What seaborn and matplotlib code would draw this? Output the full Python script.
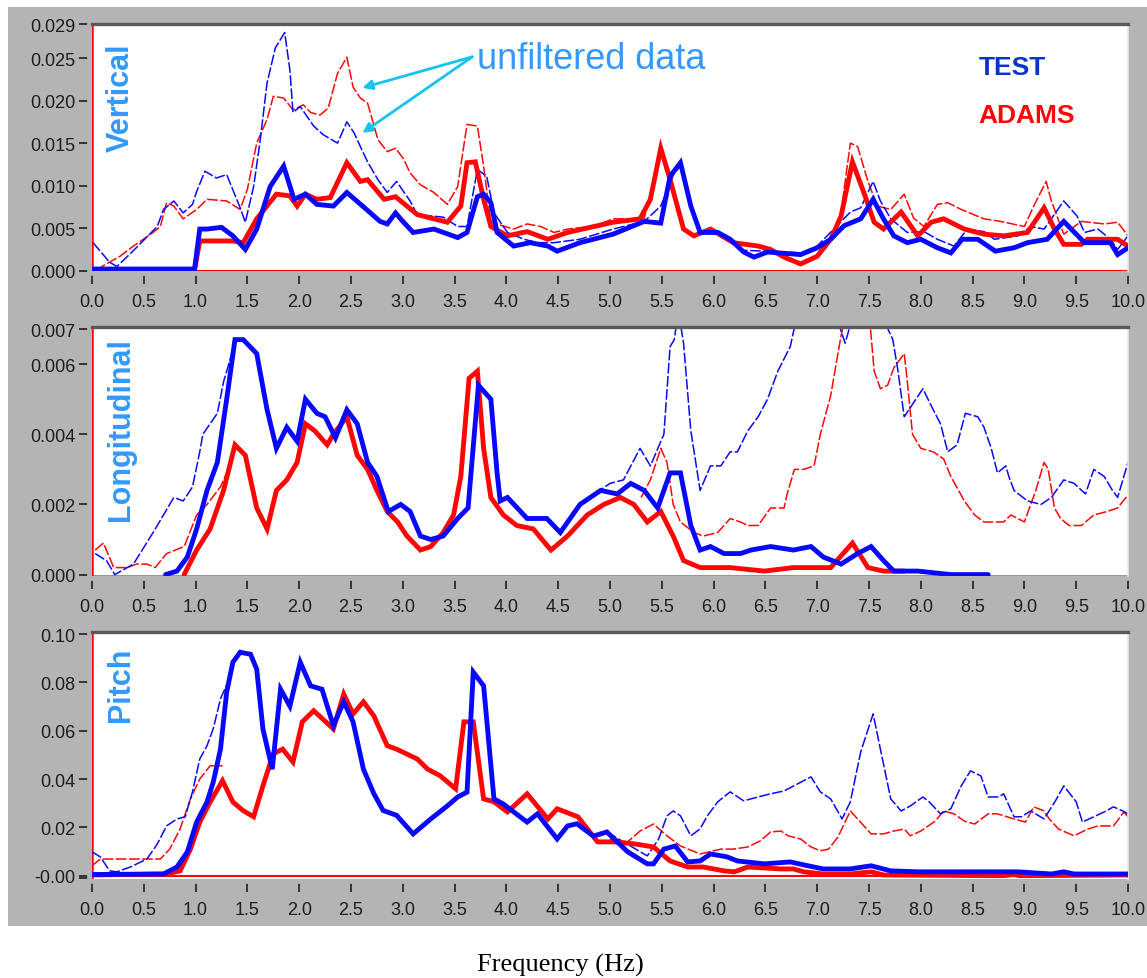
import numpy as np
import pandas as pd
import matplotlib
matplotlib.use("Agg")
import matplotlib.pyplot as plt
from matplotlib.patches import Rectangle
import seaborn as sns

# ---------------- data (frequency Hz, amplitude) ----------------
FREQ_TICKS = [i * 0.5 for i in range(21)]

vert_test = [(0.0, 0.0002), (0.99, 0.0002), (1.04, 0.0049), (1.11, 0.0049), (1.25, 0.0051), (1.36, 0.0041),
             (1.48, 0.0025), (1.59, 0.0049), (1.72, 0.0099), (1.85, 0.0123), (1.95, 0.0084), (2.06, 0.0090),
             (2.17, 0.0078), (2.33, 0.0076), (2.46, 0.0092), (2.65, 0.0072), (2.78, 0.0058), (2.85, 0.0055),
             (2.93, 0.0068), (3.0, 0.0058), (3.10, 0.0045), (3.3, 0.0049), (3.53, 0.0039), (3.62, 0.0045),
             (3.72, 0.0087), (3.78, 0.0090), (3.85, 0.0080), (3.91, 0.0045), (4.07, 0.0029), (4.23, 0.0033),
             (4.4, 0.0029), (4.49, 0.0023), (4.71, 0.0033), (5.03, 0.0043), (5.33, 0.0058), (5.49, 0.0056),
             (5.58, 0.0111), (5.68, 0.0127), (5.78, 0.0076), (5.87, 0.0045), (6.04, 0.0045), (6.16, 0.0037),
             (6.29, 0.0022), (6.39, 0.0016), (6.52, 0.0022), (6.84, 0.0019), (7.0, 0.0027), (7.13, 0.0037),
             (7.26, 0.0053), (7.42, 0.0061), (7.54, 0.0084), (7.64, 0.0061), (7.74, 0.0041), (7.87, 0.0033),
             (8.0, 0.0037), (8.16, 0.0027), (8.29, 0.0021), (8.40, 0.0037), (8.55, 0.0037), (8.72, 0.0023),
             (8.9, 0.0027), (9.03, 0.0033), (9.22, 0.0037), (9.38, 0.0058), (9.58, 0.0033), (9.83, 0.0033),
             (9.9, 0.0019), (10.0, 0.0027)]

vert_adams = [(0.0, 0.0001), (0.99, 0.0001), (1.04, 0.0035), (1.36, 0.0035), (1.46, 0.0033), (1.59, 0.0061),
              (1.78, 0.0090), (1.91, 0.0088), (1.98, 0.0076), (2.06, 0.0090), (2.17, 0.0084), (2.30, 0.0086),
              (2.46, 0.0127), (2.59, 0.0105), (2.66, 0.0107), (2.82, 0.0084), (2.93, 0.0087), (3.14, 0.0066),
              (3.43, 0.0057), (3.56, 0.0076), (3.62, 0.0127), (3.70, 0.0128), (3.78, 0.0084), (3.85, 0.0052),
              (4.01, 0.0041), (4.2, 0.0046), (4.4, 0.0037), (4.59, 0.0045), (5.03, 0.0057), (5.29, 0.0061),
              (5.39, 0.0084), (5.49, 0.0144), (5.58, 0.0107), (5.71, 0.0049), (5.81, 0.0041), (5.97, 0.0049),
              (6.19, 0.0033), (6.43, 0.0029), (6.55, 0.0025), (6.68, 0.0016), (6.84, 0.0008), (7.0, 0.0017),
              (7.13, 0.0037), (7.23, 0.0064), (7.34, 0.0128), (7.45, 0.0092), (7.55, 0.0057), (7.64, 0.0049),
              (7.81, 0.0069), (7.97, 0.0041), (8.1, 0.0057), (8.22, 0.0061), (8.42, 0.0049), (8.61, 0.0043),
              (8.8, 0.0041), (9.03, 0.0045), (9.19, 0.0074), (9.29, 0.0049), (9.38, 0.0031), (9.55, 0.0031),
              (9.61, 0.0037), (9.9, 0.0037), (10.0, 0.0029)]

vert_test_raw = [(0.01, 0.0033), (0.17, 0.0010), (0.24, 0.0005), (0.37, 0.0020), (0.63, 0.0052), (0.69, 0.0072),
                 (0.79, 0.0082), (0.88, 0.0068), (0.97, 0.0078), (1.01, 0.0093), (1.09, 0.0117), (1.20, 0.0109),
                 (1.30, 0.0113), (1.43, 0.0074), (1.48, 0.0057), (1.56, 0.0099), (1.62, 0.0150), (1.69, 0.0221),
                 (1.77, 0.0262), (1.86, 0.0280), (1.91, 0.0236), (1.94, 0.0186), (2.01, 0.0193), (2.14, 0.0170),
                 (2.23, 0.0160), (2.37, 0.0150), (2.46, 0.0175), (2.53, 0.0162), (2.59, 0.0146), (2.66, 0.0128),
                 (2.76, 0.0107), (2.85, 0.0092), (2.94, 0.0105), (3.07, 0.0082), (3.14, 0.0066), (3.39, 0.0063),
                 (3.53, 0.0052), (3.62, 0.0052), (3.72, 0.0119), (3.81, 0.0111), (3.88, 0.0068), (4.01, 0.0045),
                 (4.17, 0.0037), (4.30, 0.0033), (4.46, 0.0033), (4.71, 0.0037), (5.03, 0.0049), (5.33, 0.0058),
                 (5.49, 0.0076), (5.62, 0.0115), (5.68, 0.0123), (5.78, 0.0076), (5.87, 0.0045), (6.04, 0.0045),
                 (6.16, 0.0037), (6.29, 0.0024), (6.52, 0.0023), (6.84, 0.0021), (7.0, 0.0029), (7.16, 0.0049),
                 (7.32, 0.0069), (7.42, 0.0074), (7.54, 0.0105), (7.61, 0.0082), (7.71, 0.0061), (7.87, 0.0045),
                 (8.03, 0.0046), (8.16, 0.0037), (8.32, 0.0029), (8.45, 0.0049), (8.61, 0.0046), (8.71, 0.0037),
                 (8.94, 0.0041), (9.06, 0.0052), (9.19, 0.0049), (9.38, 0.0082), (9.51, 0.0064), (9.58, 0.0045),
                 (9.71, 0.0049), (9.83, 0.0037), (9.9, 0.0025), (10.0, 0.0041)]

vert_adams_raw = [(0.04, 0.0000), (0.11, 0.0006), (0.27, 0.0017), (0.40, 0.0029), (0.59, 0.0045), (0.66, 0.0052),
                  (0.72, 0.0080), (0.79, 0.0076), (0.88, 0.0061), (1.01, 0.0072), (1.11, 0.0084), (1.30, 0.0082),
                  (1.43, 0.0072), (1.50, 0.0096), (1.59, 0.0150), (1.69, 0.0178), (1.75, 0.0205), (1.85, 0.0203),
                  (1.94, 0.0189), (2.04, 0.0195), (2.11, 0.0186), (2.20, 0.0183), (2.28, 0.0191), (2.37, 0.0232),
                  (2.46, 0.0251), (2.52, 0.0216), (2.59, 0.0203), (2.66, 0.0197), (2.76, 0.0154), (2.85, 0.0140),
                  (2.93, 0.0144), (3.01, 0.0131), (3.07, 0.0115), (3.17, 0.0101), (3.30, 0.0092), (3.43, 0.0078),
                  (3.53, 0.0099), (3.62, 0.0172), (3.72, 0.0170), (3.78, 0.0123), (3.85, 0.0057), (4.07, 0.0049),
                  (4.20, 0.0055), (4.33, 0.0052), (4.46, 0.0045), (4.59, 0.0049), (4.84, 0.0052), (5.03, 0.0061),
                  (5.33, 0.0061), (5.49, 0.0144), (5.58, 0.0115), (5.71, 0.0049), (5.81, 0.0041), (5.97, 0.0049),
                  (6.19, 0.0033), (6.43, 0.0029), (6.68, 0.0017), (6.84, 0.0009), (7.0, 0.0018), (7.13, 0.0037),
                  (7.23, 0.0069), (7.32, 0.0150), (7.39, 0.0146), (7.49, 0.0105), (7.58, 0.0076), (7.71, 0.0072),
                  (7.84, 0.0090), (7.93, 0.0062), (8.03, 0.0052), (8.16, 0.0078), (8.26, 0.0080), (8.39, 0.0072),
                  (8.61, 0.0061), (8.77, 0.0058), (9.0, 0.0052), (9.09, 0.0076), (9.21, 0.0105), (9.26, 0.0082),
                  (9.38, 0.0043), (9.55, 0.0058), (9.77, 0.0055), (9.9, 0.0057), (10.0, 0.0041)]

long_test = [(0.71, 0.0000), (0.82, 0.0001), (0.92, 0.0005), (1.01, 0.0013), (1.11, 0.0024), (1.21, 0.0032),
             (1.30, 0.0050), (1.38, 0.0067), (1.46, 0.0067), (1.59, 0.0063), (1.69, 0.0047), (1.78, 0.0036),
             (1.88, 0.0042), (1.98, 0.0038), (2.06, 0.0050), (2.17, 0.0046), (2.25, 0.0045), (2.35, 0.0039),
             (2.46, 0.0047), (2.56, 0.0043), (2.66, 0.0032), (2.75, 0.0028), (2.86, 0.0018), (2.98, 0.0020),
             (3.07, 0.0018), (3.17, 0.0011), (3.27, 0.0010), (3.39, 0.0011), (3.53, 0.0016), (3.63, 0.0019),
             (3.73, 0.0054), (3.85, 0.0050), (3.91, 0.0029), (3.94, 0.0021), (4.01, 0.0022), (4.20, 0.0016),
             (4.39, 0.0016), (4.52, 0.0012), (4.71, 0.0020), (4.91, 0.0024), (5.07, 0.0023), (5.20, 0.0026),
             (5.33, 0.0024), (5.46, 0.0019), (5.58, 0.0029), (5.68, 0.0029), (5.78, 0.0014), (5.87, 0.0007),
             (5.97, 0.0008), (6.10, 0.0006), (6.26, 0.0006), (6.36, 0.0007), (6.55, 0.0008), (6.77, 0.0007),
             (6.94, 0.0008), (7.06, 0.0005), (7.23, 0.0003), (7.39, 0.0006), (7.52, 0.0008), (7.64, 0.0004),
             (7.74, 0.0001), (7.97, 0.0001), (8.29, 0.0000), (8.65, 0.0000)]

long_adams = [(0.89, 0.0000), (1.01, 0.0007), (1.14, 0.0013), (1.27, 0.0024), (1.38, 0.0037), (1.48, 0.0034),
              (1.59, 0.0019), (1.69, 0.0013), (1.78, 0.0024), (1.88, 0.0027), (1.98, 0.0032), (2.06, 0.0043),
              (2.15, 0.0041), (2.27, 0.0037), (2.33, 0.0040), (2.46, 0.0045), (2.56, 0.0034), (2.66, 0.0030),
              (2.75, 0.0024), (2.85, 0.0018), (2.95, 0.0015), (3.04, 0.0011), (3.17, 0.0007), (3.27, 0.0008),
              (3.39, 0.0012), (3.49, 0.0017), (3.56, 0.0028), (3.64, 0.0056), (3.72, 0.0058), (3.78, 0.0036),
              (3.85, 0.0022), (3.97, 0.0017), (4.10, 0.0014), (4.26, 0.0013), (4.43, 0.0007), (4.59, 0.0011),
              (4.78, 0.0017), (4.94, 0.0020), (5.10, 0.0022), (5.23, 0.0020), (5.36, 0.0015), (5.49, 0.0018),
              (5.61, 0.0011), (5.71, 0.0004), (5.87, 0.0002), (6.16, 0.0002), (6.49, 0.0001), (6.77, 0.0002),
              (7.13, 0.0002), (7.34, 0.0009), (7.49, 0.0002), (7.64, 0.0001), (7.84, 0.0001)]

long_test_raw = [(0.03, 0.0006), (0.14, 0.0004), (0.22, 0.0000), (0.40, 0.0003), (0.59, 0.0012), (0.69, 0.0017),
                 (0.79, 0.0022), (0.88, 0.0021), (0.97, 0.0025), (1.04, 0.0035), (1.07, 0.0040), (1.14, 0.0043),
                 (1.21, 0.0046), (1.27, 0.0055), (1.33, 0.0061), (1.38, 0.0067), (1.40, None),
                 (4.85, 0.0023), (5.0, 0.0026), (5.13, 0.0027), (5.29, 0.0036), (5.39, 0.0031), (5.52, 0.0040),
                 (5.58, 0.0065), (5.62, 0.0067), (5.66, 0.0075), (5.71, 0.0066), (5.78, 0.0041), (5.87, 0.0024),
                 (5.97, 0.0031), (6.07, 0.0031), (6.16, 0.0035), (6.23, 0.0035), (6.33, 0.0041), (6.43, 0.0045),
                 (6.52, 0.0050), (6.62, 0.0058), (6.74, 0.0065), (6.85, 0.0080), (7.05, 0.0085), (7.27, 0.0066),
                 (7.45, 0.0085), (7.73, 0.0067), (7.78, 0.0058), (7.84, 0.0045), (7.93, 0.0049), (8.02, 0.0053),
                 (8.12, 0.0047), (8.19, 0.0043), (8.26, 0.0035), (8.35, 0.0037), (8.43, 0.0046), (8.55, 0.0045),
                 (8.61, 0.0042), (8.68, 0.0036), (8.74, 0.0029), (8.82, 0.0031), (8.85, 0.0028), (8.90, 0.0024),
                 (9.03, 0.0021), (9.16, 0.0020), (9.26, 0.0022), (9.38, 0.0027), (9.48, 0.0026), (9.59, 0.0023),
                 (9.67, 0.0030), (9.77, 0.0028), (9.85, 0.0024), (9.90, 0.0022), (9.96, 0.0028), (10.0, 0.0032)]

long_adams_raw = [(0.03, 0.0007), (0.11, 0.0009), (0.21, 0.0002), (0.34, 0.0002), (0.43, 0.0003), (0.53, 0.0003),
                  (0.61, 0.0002), (0.72, 0.0006), (0.89, 0.0008), (1.01, 0.0017), (1.11, 0.0020), (1.24, 0.0025),
                  (1.30, 0.0029), (1.32, None),
                  (5.30, 0.0022), (5.39, 0.0027), (5.49, 0.0036), (5.55, 0.0032), (5.61, 0.0020), (5.68, 0.0015),
                  (5.81, 0.0012), (5.90, 0.0011), (6.04, 0.0012), (6.16, 0.0016), (6.26, 0.0015), (6.33, 0.0014),
                  (6.43, 0.0014), (6.55, 0.0019), (6.68, 0.0019), (6.71, 0.0023), (6.78, 0.0030), (6.87, 0.0030),
                  (6.97, 0.0031), (7.03, 0.0040), (7.13, 0.0051), (7.20, 0.0063), (7.23, 0.0068), (7.35, 0.0085),
                  (7.50, 0.0075), (7.55, 0.0058), (7.61, 0.0053), (7.68, 0.0054), (7.74, 0.0059), (7.84, 0.0063),
                  (7.87, 0.0055), (7.92, 0.0040), (8.0, 0.0036), (8.12, 0.0035), (8.22, 0.0033), (8.29, 0.0028),
                  (8.42, 0.0021), (8.52, 0.0017), (8.61, 0.0015), (8.80, 0.0015), (8.87, 0.0017), (9.0, 0.0015),
                  (9.11, 0.0024), (9.19, 0.0032), (9.23, 0.0030), (9.29, 0.0019), (9.35, 0.0016), (9.43, 0.0014),
                  (9.55, 0.0014), (9.67, 0.0017), (9.80, 0.0018), (9.90, 0.0019), (9.98, 0.0022), (10.0, 0.0021)]

pitch_test = [(0.0, 0.0005), (0.69, 0.0007), (0.82, 0.0036), (0.92, 0.0098), (1.01, 0.0222), (1.11, 0.0305),
              (1.17, 0.0387), (1.24, 0.0524), (1.30, 0.0760), (1.36, 0.0884), (1.43, 0.0925), (1.53, 0.0917),
              (1.59, 0.0855), (1.65, 0.0607), (1.74, 0.0441), (1.82, 0.0772), (1.91, 0.0702), (2.01, 0.0884),
              (2.11, 0.0786), (2.22, 0.0772), (2.33, 0.0621), (2.43, 0.0720), (2.52, 0.0637), (2.62, 0.0441),
              (2.72, 0.0340), (2.81, 0.0270), (2.94, 0.0250), (3.10, 0.0173), (3.27, 0.0235), (3.43, 0.0289),
              (3.53, 0.0326), (3.62, 0.0346), (3.68, 0.0843), (3.78, 0.0786), (3.88, 0.0318), (3.97, 0.0297),
              (4.20, 0.0222), (4.30, 0.0256), (4.49, 0.0152), (4.59, 0.0206), (4.68, 0.0215), (4.84, 0.0164),
              (4.97, 0.0181), (5.17, 0.0099), (5.36, 0.0049), (5.42, 0.0049), (5.52, 0.0110), (5.63, 0.0123),
              (5.75, 0.0057), (5.87, 0.0061), (5.97, 0.0090), (6.13, 0.0078), (6.23, 0.0061), (6.49, 0.0049),
              (6.74, 0.0057), (6.91, 0.0041), (7.06, 0.0028), (7.32, 0.0028), (7.52, 0.0041), (7.71, 0.0020),
              (7.97, 0.0016), (8.94, 0.0016), (9.26, 0.0007), (9.38, 0.0016), (9.48, 0.0007), (10.0, 0.0007)]

pitch_adams = [(0.0, 0.0003), (0.72, 0.0007), (0.85, 0.0020), (0.95, 0.0110), (1.04, 0.0222), (1.14, 0.0305),
               (1.26, 0.0393), (1.36, 0.0305), (1.46, 0.0269), (1.56, 0.0244), (1.65, 0.0372), (1.75, 0.0505),
               (1.84, 0.0524), (1.94, 0.0471), (2.03, 0.0637), (2.14, 0.0683), (2.33, 0.0608), (2.43, 0.0752),
               (2.52, 0.0670), (2.62, 0.0720), (2.72, 0.0662), (2.85, 0.0538), (2.94, 0.0524), (3.14, 0.0483),
               (3.24, 0.0441), (3.36, 0.0414), (3.51, 0.0360), (3.59, 0.0637), (3.68, 0.0637), (3.78, 0.0318),
               (3.88, 0.0306), (4.01, 0.0264), (4.20, 0.0339), (4.40, 0.0235), (4.49, 0.0277), (4.69, 0.0244),
               (4.88, 0.0140), (5.03, 0.0140), (5.23, 0.0132), (5.42, 0.0119), (5.58, 0.0061), (5.75, 0.0036),
               (5.90, 0.0036), (6.10, 0.0020), (6.20, 0.0016), (6.33, 0.0036), (6.65, 0.0028), (6.77, 0.0028),
               (6.87, 0.0016), (7.06, 0.0007), (7.32, 0.0007), (7.52, 0.0016), (7.64, 0.0003), (8.80, 0.0000),
               (8.90, 0.0005), (8.95, 0.0000), (10.0, 0.0003)]

pitch_test_raw = [(0.0, 0.0099), (0.08, 0.0078), (0.17, 0.0020), (0.24, 0.0016), (0.37, 0.0036), (0.53, 0.0069),
                  (0.63, 0.0131), (0.72, 0.0206), (0.82, 0.0235), (0.90, 0.0244), (0.97, 0.0347), (1.04, 0.0483),
                  (1.11, 0.0538), (1.17, 0.0608), (1.24, 0.0732), (1.30, 0.0790), (1.32, None),
                  (4.97, 0.0181), (5.13, 0.0140), (5.36, 0.0082), (5.47, 0.0152), (5.55, 0.0248), (5.61, 0.0268),
                  (5.68, 0.0248), (5.78, 0.0165), (5.87, 0.0194), (5.94, 0.0248), (6.04, 0.0306), (6.16, 0.0347),
                  (6.29, 0.0310), (6.43, 0.0326), (6.55, 0.0339), (6.68, 0.0351), (6.94, 0.0409), (7.03, 0.0347),
                  (7.13, 0.0318), (7.24, 0.0235), (7.32, 0.0306), (7.42, 0.0513), (7.54, 0.0670), (7.61, 0.0524),
                  (7.71, 0.0318), (7.81, 0.0268), (7.90, 0.0289), (8.02, 0.0326), (8.08, 0.0306), (8.19, 0.0256),
                  (8.29, 0.0277), (8.39, 0.0372), (8.48, 0.0434), (8.58, 0.0413), (8.65, 0.0326), (8.75, 0.0326),
                  (8.80, 0.0339), (8.90, 0.0244), (8.97, 0.0244), (9.06, 0.0268), (9.19, 0.0235), (9.30, 0.0310),
                  (9.38, 0.0372), (9.50, 0.0306), (9.56, 0.0222), (9.67, 0.0244), (9.77, 0.0264), (9.86, 0.0285),
                  (9.95, 0.0268), (10.0, 0.0256)]

pitch_adams_raw = [(0.0, 0.0041), (0.08, 0.0069), (0.66, 0.0069), (0.75, 0.0110), (0.85, 0.0193), (0.95, 0.0318),
                   (1.04, 0.0400), (1.14, 0.0455), (1.26, 0.0455), (1.28, None),
                   (5.0, 0.0150), (5.17, 0.0140), (5.29, 0.0185), (5.42, 0.0214), (5.55, 0.0165), (5.68, 0.0123),
                   (5.87, 0.0090), (6.07, 0.0110), (6.19, 0.0110), (6.33, 0.0119), (6.45, 0.0144), (6.55, 0.0181),
                   (6.65, 0.0185), (6.72, 0.0165), (6.84, 0.0152), (6.94, 0.0119), (7.03, 0.0103), (7.11, 0.0110),
                   (7.20, 0.0160), (7.32, 0.0268), (7.39, 0.0235), (7.52, 0.0173), (7.64, 0.0173), (7.74, 0.0185),
                   (7.84, 0.0193), (7.90, 0.0165), (8.0, 0.0185), (8.14, 0.0226), (8.22, 0.0268), (8.32, 0.0256),
                   (8.42, 0.0226), (8.52, 0.0214), (8.65, 0.0256), (8.74, 0.0256), (8.90, 0.0235), (9.01, 0.0222),
                   (9.09, 0.0285), (9.19, 0.0268), (9.24, 0.0235), (9.33, 0.0193), (9.48, 0.0165), (9.61, 0.0193),
                   (9.71, 0.0206), (9.86, 0.0206), (9.96, 0.0264), (10.0, 0.0244)]

PANEL_NAMES = ["Vertical", "Longitudinal", "Pitch"]
Y_TICKS = [[0.0, 0.005, 0.010, 0.015, 0.020, 0.025, 0.029],
           [0.0, 0.002, 0.004, 0.006, 0.007],
           [0.0, 0.02, 0.04, 0.06, 0.08, 0.10]]
Y_LABELS = [["0.000", "0.005", "0.010", "0.015", "0.020", "0.025", "0.029"],
            ["0.000", "0.002", "0.004", "0.006", "0.007"],
            ["-0.00", "0.02", "0.04", "0.06", "0.08", "0.10"]]
Y_LIMS = [(-0.00003, 0.0289), (-0.00004, 0.00706), (-0.00137, 0.1009)]

# ---------------- styling ----------------
sns.set_theme(style="white")
plt.rcParams["font.family"] = ["Liberation Sans", "DejaVu Sans"]
plt.rcParams["lines.dashed_pattern"] = [7.0, 1.6]

W, H = 1147, 979
BLUE = "#0808ff"
RED = "#ff0606"
LABEL_BLUE = "#3399ff"
PANEL_GRAY = "#b4b4b4"

fig = plt.figure(figsize=(W / 100, H / 100), dpi=100)
fig.patch.set_facecolor("white")
fig.patches.append(Rectangle((8 / W, 1 - 927 / H), 1139 / W, 919 / H, transform=fig.transFigure,
                             facecolor=PANEL_GRAY, edgecolor="none", zorder=-10))


def to_frame(pairs):
    df = pd.DataFrame([(f, np.nan if a is None else a) for f, a in pairs], columns=["freq", "amp"])
    df["seg"] = df["amp"].isna().cumsum()
    return df.dropna().reset_index(drop=True)


def draw(ax, pairs, color, lw, dashed, z):
    df = to_frame(pairs)
    kw = {"linestyle": "--"} if dashed else {"solid_joinstyle": "miter"}
    sns.lineplot(data=df, x="freq", y="amp", units="seg", estimator=None, sort=False,
                 color=color, linewidth=lw, ax=ax, legend=False, zorder=z, **kw)


panel_px = [(25, 272), (328, 577), (633, 880)]
series = [(vert_test, vert_adams, vert_test_raw, vert_adams_raw),
          (long_test, long_adams, long_test_raw, long_adams_raw),
          (pitch_test, pitch_adams, pitch_test_raw, pitch_adams_raw)]
title_top = [43, 338, 648]

axes = []
for i, (top, bot) in enumerate(panel_px):
    ax = fig.add_axes([92 / W, 1 - bot / H, 1036 / W, (bot - top) / H])
    ax.set_zorder(5)
    ax.set_facecolor("white")
    test, adams, test_raw, adams_raw = series[i]
    draw(ax, adams_raw, RED, 1.1, True, 2)
    draw(ax, test_raw, BLUE, 1.1, True, 2)
    draw(ax, adams, RED, 3.5, False, 3)
    draw(ax, test, BLUE, 3.5, False, 4)
    if i != 1:
        ax.axhline(0, color=RED, lw=1.5, zorder=1)
    else:
        ax.axhline(Y_LIMS[1][0], color="#8c8c8c", lw=2.0, zorder=1)
    ax.axvline(0, color=RED, lw=1.8, zorder=1)
    ax.set_xlim(0, 10)
    ax.set_ylim(*Y_LIMS[i])
    ax.set_xticks(FREQ_TICKS)
    ax.set_xticklabels([f"{t:.1f}" for t in FREQ_TICKS])
    ax.set_yticks(Y_TICKS[i])
    ax.set_yticklabels(Y_LABELS[i])
    if i == 2:
        ax.set_yticks([-0.0008], minor=True)
    ax.set_xlabel("")
    ax.set_ylabel("")
    ax.tick_params(axis="both", which="both", direction="out", length=6.5, width=1.3, color="#2a2a2a",
                   labelsize=13, labelcolor="#1e1e1e", bottom=True, left=True)
    ax.tick_params(axis="x", pad=6.5)
    ax.tick_params(axis="y", pad=2.5)
    ax.spines["top"].set_color("#5a5a5a")
    ax.spines["top"].set_linewidth(2.4)
    ax.spines["right"].set_color("#e6e6e6")
    ax.spines["right"].set_linewidth(1.2)
    for side in ["left", "bottom"]:
        ax.spines[side].set_position(("outward", 2.8))
        ax.spines[side].set_color(PANEL_GRAY)
    ytop = 1 - (title_top[i] - top) / (bot - top)
    ax.text(0.028, ytop, PANEL_NAMES[i], transform=ax.transAxes, rotation=90, ha="center", va="top",
            fontsize=22, fontweight="bold", color=LABEL_BLUE, zorder=6)
    axes.append(ax)

ax0 = axes[0]
ax0.text(3.72, 0.02497, "unfiltered data", fontsize=26, color=LABEL_BLUE, ha="left", va="center", zorder=6)
for tip in [(2.61, 0.0215), (2.61, 0.0162)]:
    ax0.annotate("", xy=tip, xytext=(3.67, 0.02514),
                 arrowprops=dict(arrowstyle="-|>", color="#14c4ee", lw=2.0, mutation_scale=14,
                                 shrinkA=0, shrinkB=0), zorder=6)
ax0.text(8.56, 0.02397, "TEST", fontsize=19, fontweight="bold", color="#0a33cc", ha="left", va="center", zorder=6)
ax0.text(8.56, 0.01835, "ADAMS", fontsize=19, fontweight="bold", color=RED, ha="left", va="center", zorder=6)

fig.text(560 / W, 1 - 965 / H, "Frequency (Hz)", fontsize=19, family=["Liberation Serif", "DejaVu Serif"],
         ha="center", va="center", color="black")

fig.savefig("out.png", dpi=100, facecolor="white")
